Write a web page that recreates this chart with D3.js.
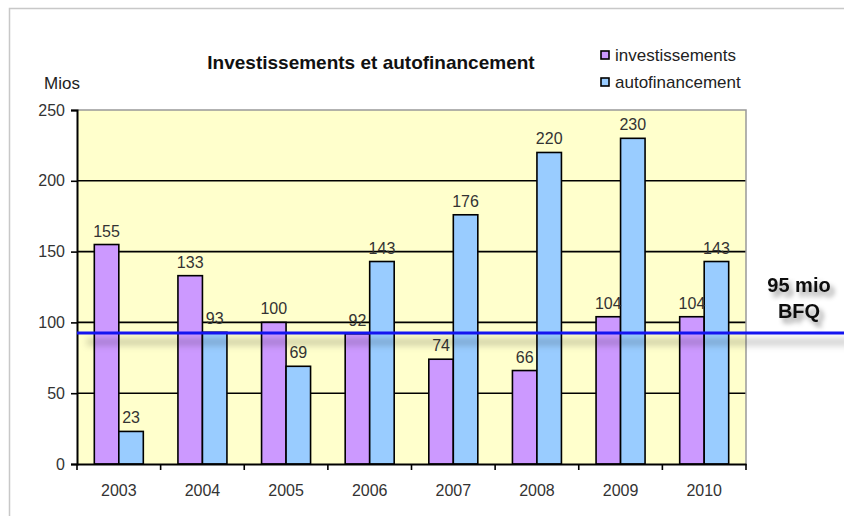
<!DOCTYPE html>
<html><head><meta charset="utf-8">
<script src="https://cdn.jsdelivr.net/npm/d3@7"></script>
<style>body{margin:0;background:#fff}svg{display:block;font-family:"Liberation Sans",Arial,sans-serif}</style>
</head><body><svg id="c" width="844" height="516"></svg>
<script>
const years = ["2003","2004","2005","2006","2007","2008","2009","2010"];
const investissements = [155,133,100,92,74,66,104,104];
const autofinancement = [23,93,69,143,176,220,230,143];
const seriesNames = ["investissements","autofinancement"];
const seriesColors = ["#CC99FF","#99CCFF"];
const yTicks = [0,50,100,150,200,250];
const bfqLevel = 92.5;
const bfqLabel = ["95 mio","BFQ"];
const title = "Investissements et autofinancement";
const yUnit = "Mios";

const svg = d3.select("#c");
const defs = svg.append("defs");
const f1 = defs.append("filter").attr("id","blur").attr("filterUnits","userSpaceOnUse")
  .attr("x",0).attr("y",0).attr("width",844).attr("height",516);
f1.append("feGaussianBlur").attr("stdDeviation",3.5);
const f2 = defs.append("filter").attr("id","tsh").attr("filterUnits","userSpaceOnUse")
  .attr("x",700).attr("y",240).attr("width",144).attr("height",110);
f2.append("feDropShadow").attr("dx",4).attr("dy",5).attr("stdDeviation",2.5).attr("flood-color","#000").attr("flood-opacity",0.4);

// page frame
svg.append("path").attr("d","M9.5,516 V8.5 H844").attr("fill","none").attr("stroke","#c8c8c8").attr("stroke-width",1.5);

const L=77,R=746,T=110,B=464;
const x = d3.scaleBand().domain(years).range([L,R]).padding(0);
const y = d3.scaleLinear().domain([0,250]).range([B,T]);
const barW = 24.5;
const xs = d3.scaleBand().domain(seriesNames).range([0,barW*2]);

svg.append("rect").attr("x",L).attr("y",T).attr("width",R-L).attr("height",B-T).attr("fill","#FFFFCC");
// gridlines
svg.append("g").selectAll("line").data(yTicks.filter(d=>d>0&&d<250)).join("line")
  .attr("x1",L).attr("x2",R).attr("y1",d=>y(d)).attr("y2",d=>y(d)).attr("stroke","#000").attr("stroke-width",1.6);
// top/right border
svg.append("path").attr("d",`M${L},${T} H${R} V${B}`).attr("fill","none").attr("stroke","#999").attr("stroke-width",1.5);

const data = [];
years.forEach((yr,i)=>{ data.push({yr,s:0,v:investissements[i]}); data.push({yr,s:1,v:autofinancement[i]}); });
const off = (x.bandwidth()-barW*2)/2;
svg.append("g").selectAll("rect").data(data).join("rect")
  .attr("x",d=>x(d.yr)+off+xs(seriesNames[d.s]))
  .attr("y",d=>y(d.v)).attr("width",xs.bandwidth()).attr("height",d=>B-y(d.v))
  .attr("fill",d=>seriesColors[d.s]).attr("stroke","#000").attr("stroke-width",1.6);

svg.append("g").selectAll("text").data(data).join("text")
  .attr("x",d=>x(d.yr)+off+xs(seriesNames[d.s])+xs.bandwidth()/2)
  .attr("y",d=>y(d.v)-8).attr("text-anchor","middle").attr("font-size",16).attr("fill","#333")
  .text(d=>d.v);

// axes
const ya = svg.append("g").attr("transform",`translate(${L},0)`)
  .call(d3.axisLeft(y).tickValues(yTicks).tickSize(6).tickPadding(6));
ya.select(".domain").attr("stroke","#000").attr("stroke-width",2);
ya.selectAll(".tick line").attr("stroke","#000").attr("stroke-width",1.6);
ya.selectAll("text").attr("font-size",16).attr("fill","#333").attr("font-family","Liberation Sans, Arial, sans-serif");

const xa = svg.append("g").attr("transform",`translate(0,${B})`)
  .call(d3.axisBottom(x).tickSize(0).tickPadding(21));
xa.select(".domain").attr("stroke","#000").attr("stroke-width",2);
xa.selectAll("text").attr("font-size",16).attr("fill","#333").attr("font-family","Liberation Sans, Arial, sans-serif");
svg.append("g").selectAll("line").data(years.concat(["end"])).join("line")
  .attr("x1",(d,i)=>L+i*x.step()).attr("x2",(d,i)=>L+i*x.step()).attr("y1",B).attr("y2",B+6)
  .attr("stroke","#000").attr("stroke-width",1.6);

// BFQ line with shadow
svg.append("line").attr("x1",L+10).attr("x2",850).attr("y1",y(bfqLevel)+9).attr("y2",y(bfqLevel)+9)
  .attr("stroke","#000").attr("stroke-opacity",0.22).attr("stroke-width",6).attr("filter","url(#blur)");
svg.append("line").attr("x1",L).attr("x2",844).attr("y1",y(bfqLevel)).attr("y2",y(bfqLevel))
  .attr("stroke","#1414F0").attr("stroke-width",3);
svg.append("g").attr("filter","url(#tsh)").selectAll("text").data(bfqLabel).join("text")
  .attr("x",799).attr("y",(d,i)=>292+i*26).attr("text-anchor","middle")
  .attr("font-size",20).attr("font-weight","bold").attr("fill","#111").text(d=>d);

// titles
svg.append("text").attr("x",371).attr("y",69).attr("text-anchor","middle").attr("font-size",19)
  .attr("font-weight","bold").attr("fill","#111").text(title);
svg.append("text").attr("x",44).attr("y",89).attr("font-size",17).attr("fill","#222").text(yUnit);

// legend
const lg = svg.append("g").selectAll("g").data(seriesNames).join("g")
  .attr("transform",(d,i)=>`translate(601,${51+i*27})`);
lg.append("rect").attr("width",8).attr("height",8).attr("fill",(d,i)=>seriesColors[i]).attr("stroke","#000").attr("stroke-width",1.6);
lg.append("text").attr("x",14).attr("y",9.5).attr("font-size",17).attr("fill","#222").text(d=>d);
</script></body></html>
